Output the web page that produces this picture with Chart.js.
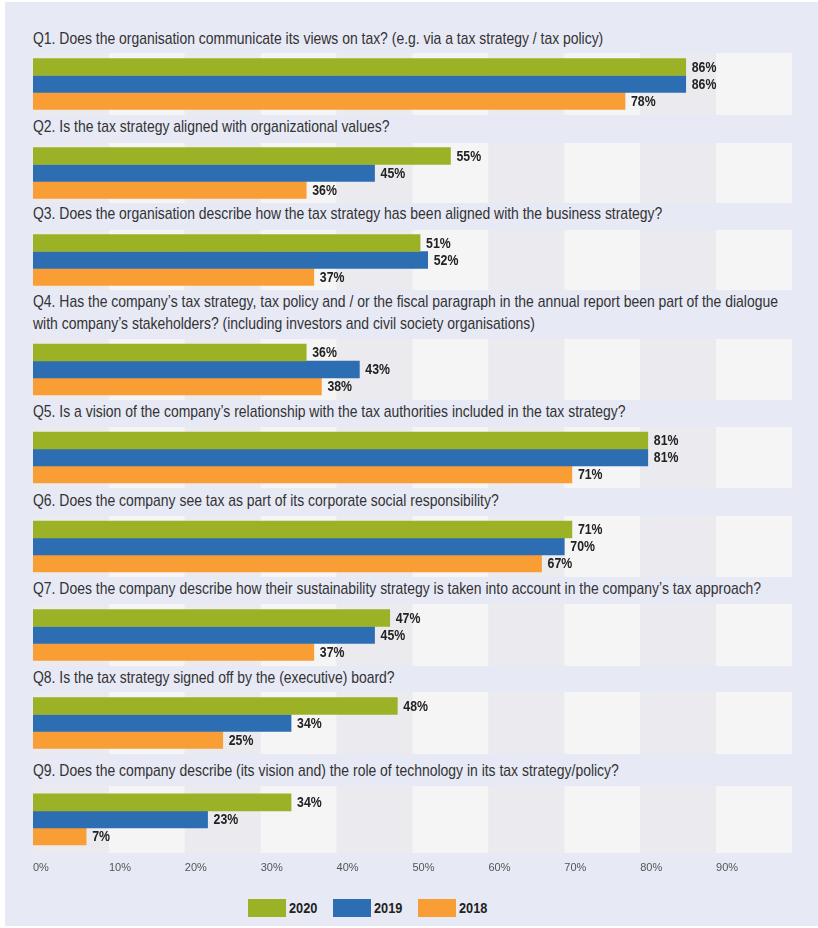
<!DOCTYPE html>
<html lang="en">
<head>
  <meta charset="UTF-8">
  <title>Tax strategy questions 2018-2020</title>
  <script src="https://cdn.jsdelivr.net/npm/chart.js"></script>
  <style>
    body {
      margin: 0;
      background: #ffffff;
      width: 818px;
      height: 928px;
      overflow: hidden;
    }
    .frame {
      position: absolute;
      left: 5px;
      top: 2px;
      width: 813px;
      height: 924px;
      background: #e7e9f5;
    }
    .title {
      position: absolute;
      left: 33px;
      width: 1000px;
      font-family: "Liberation Sans", Arial, sans-serif;
      font-size: 17px;
      line-height: 22px;
      color: #333333;
      white-space: nowrap;
      transform: scaleX(0.82);
      transform-origin: left top;
    }
    .band {
      position: absolute;
      left: 33px;
      width: 759px;
    }
    .legend {
      position: absolute;
      top: 899px;
      font-family: "Liberation Sans", Arial, sans-serif;
      font-weight: bold;
      font-size: 15px;
      color: #222;
    }
    .legend span.box {
      position: absolute;
      width: 38px;
      height: 18px;
    }
    .legend span.txt {
      position: absolute;
      top: 0;
      line-height: 18px;
      transform: scaleX(0.85);
      transform-origin: left top;
    }
  </style>
</head>
<body>
  <div class="frame"></div>
  <div id="panels"></div>
  <div class="legend" id="legend"></div>

  <script>
    const questions = [
      ['Q1. Does the organisation communicate its views on tax? (e.g. via a tax strategy / tax policy)'],
      ['Q2. Is the tax strategy aligned with organizational values?'],
      ['Q3. Does the organisation describe how the tax strategy has been aligned with the business strategy?'],
      ['Q4. Has the company\u2019s tax strategy, tax policy and / or the fiscal paragraph in the annual report been part of the dialogue',
       'with company\u2019s stakeholders? (including investors and civil society organisations)'],
      ['Q5. Is a vision of the company\u2019s relationship with the tax authorities included in the tax strategy?'],
      ['Q6. Does the company see tax as part of its corporate social responsibility?'],
      ['Q7. Does the company describe how their sustainability strategy is taken into account in the company\u2019s tax approach?'],
      ['Q8. Is the tax strategy signed off by the (executive) board?'],
      ['Q9. Does the company describe (its vision and) the role of technology in its tax strategy/policy?']
    ];
    const years = ['2020', '2019', '2018'];
    const values2020 = [86, 55, 51, 36, 81, 71, 47, 48, 34];
    const values2019 = [86, 45, 52, 43, 81, 70, 45, 34, 23];
    const values2018 = [78, 36, 37, 38, 71, 67, 37, 25, 7];
    const xTicks = [0, 10, 20, 30, 40, 50, 60, 70, 80, 90];

    const colors = ['#9bb227', '#2d6db1', '#f99d35'];

    // layout: title top, band top, band height
    const titleTops = [28, 116, 203, 291, 401, 490, 578, 667, 760];
    const bandTops = [53, 143, 230, 339, 427, 516, 604, 692, 786];
    const bandHeights = [62, 60, 60, 61, 61, 61, 62, 62, 67];

    const sans = '"Liberation Sans", Arial, sans-serif';

    // alternating column stripes behind the bars
    const stripes = {
      id: 'stripes',
      beforeDatasetsDraw(chart) {
        const { ctx, chartArea, scales } = chart;
        ctx.save();
        for (let i = 0; i < 10; i++) {
          const x0 = scales.x.getPixelForValue(i * 10);
          const x1 = scales.x.getPixelForValue(i * 10 + 10);
          ctx.fillStyle = i % 2 === 0 ? '#ebebef' : '#f5f5f6';
          ctx.fillRect(x0, chartArea.top, x1 - x0, chartArea.bottom - chartArea.top);
        }
        ctx.restore();
      }
    };

    // percentage labels at the end of each bar (slightly condensed)
    const valueLabels = {
      id: 'valueLabels',
      afterDatasetsDraw(chart) {
        const { ctx } = chart;
        chart.data.datasets.forEach((ds, i) => {
          chart.getDatasetMeta(i).data.forEach((bar, j) => {
            ctx.save();
            ctx.translate(bar.x + 6, bar.y + 1);
            ctx.scale(0.88, 1);
            ctx.font = 'bold 14px ' + sans;
            ctx.fillStyle = '#222222';
            ctx.textBaseline = 'middle';
            ctx.fillText(ds.data[j] + '%', 0, 0);
            ctx.restore();
          });
        });
      }
    };

    const panels = document.getElementById('panels');
    const allValues = [values2020, values2019, values2018];

    questions.forEach((lines, q) => {
      const t = document.createElement('div');
      t.className = 'title';
      t.style.top = titleTops[q] + 'px';
      t.innerHTML = lines.join('<br>');
      panels.appendChild(t);

      const last = q === questions.length - 1;
      const band = document.createElement('div');
      band.className = 'band';
      band.style.top = bandTops[q] + 'px';
      const h = bandHeights[q] + (last ? 31 : 0);
      band.style.height = h + 'px';
      const canvas = document.createElement('canvas');
      band.appendChild(canvas);
      panels.appendChild(band);

      new Chart(canvas, {
        type: 'bar',
        data: {
          labels: [lines[0]],
          datasets: years.map((y, i) => ({
            label: y,
            data: [allValues[i][q]],
            backgroundColor: colors[i],
            borderWidth: 0,
            barThickness: 17
          }))
        },
        options: {
          indexAxis: 'y',
          responsive: true,
          maintainAspectRatio: false,
          animation: false,
          layout: { padding: 0 },
          plugins: {
            legend: { display: false },
            tooltip: { enabled: false }
          },
          scales: {
            x: {
              min: 0,
              max: 100,
              display: last,
              afterBuildTicks(axis) {
                axis.ticks = xTicks.map(v => ({ value: v }));
              },
              afterFit(axis) {
                axis.paddingLeft = 0;
                axis.paddingRight = 0;
              },
              grid: { display: false, drawTicks: false },
              border: { display: false },
              ticks: {
                align: 'start',
                maxRotation: 0,
                padding: 9,
                color: '#555555',
                font: { family: sans, size: 11 },
                callback: v => v + '%'
              }
            },
            y: { display: false }
          }
        },
        plugins: [stripes, valueLabels]
      });
    });

    // legend
    const legend = document.getElementById('legend');
    const boxLefts = [248, 333, 418];
    years.forEach((y, i) => {
      const box = document.createElement('span');
      box.className = 'box';
      box.style.left = boxLefts[i] + 'px';
      box.style.background = colors[i];
      const txt = document.createElement('span');
      txt.className = 'txt';
      txt.style.left = (boxLefts[i] + 41) + 'px';
      txt.textContent = y;
      legend.appendChild(box);
      legend.appendChild(txt);
    });
  </script>
</body>
</html>
